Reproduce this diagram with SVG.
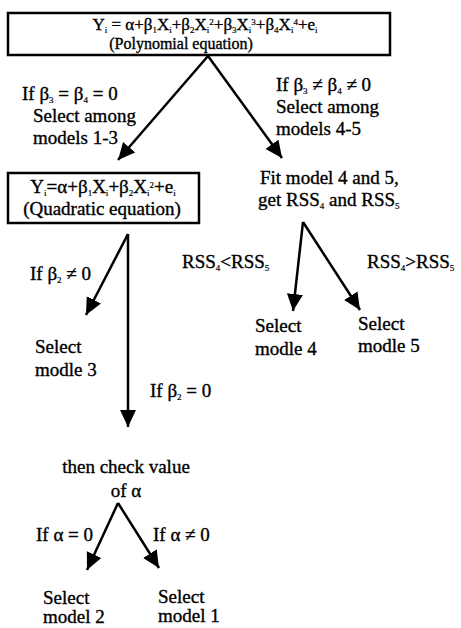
<svg xmlns="http://www.w3.org/2000/svg" width="461" height="628" viewBox="0 0 461 628">
<style>
text{font-family:"Liberation Serif","Times New Roman",serif;font-size:19px;fill:#000;stroke:#000;stroke-width:0.35}
.f16{font-size:16px}
.f17{font-size:17px}
.box{fill:#fff;stroke:#000;stroke-width:2.5}
.c{stroke:#000;stroke-width:2.5;fill:none}
.s{font-size:9px;stroke-width:0.2}
</style>
<defs>
<marker id="ah" markerUnits="userSpaceOnUse" markerWidth="18" markerHeight="17" refX="17" refY="8" orient="auto" viewBox="0 0 18 17">
<path d="M0,0 L17,8 L0,16 z" fill="#000"/>
</marker>
</defs>
<rect width="461" height="628" fill="#fff"/>
<g id="connectors">
<line class="c" x1="208" y1="56" x2="118" y2="160" marker-end="url(#ah)"/>
<line class="c" x1="208" y1="56" x2="282" y2="158" marker-end="url(#ah)"/>
<line class="c" x1="128" y1="234" x2="86" y2="315" marker-end="url(#ah)"/>
<line class="c" x1="128" y1="234" x2="128" y2="427" marker-end="url(#ah)"/>
<line class="c" x1="303" y1="222" x2="293" y2="311" marker-end="url(#ah)"/>
<line class="c" x1="303" y1="222" x2="360" y2="310" marker-end="url(#ah)"/>
<line class="c" x1="118" y1="503" x2="87" y2="570" marker-end="url(#ah)"/>
<line class="c" x1="118" y1="503" x2="159" y2="568" marker-end="url(#ah)"/>
</g>
<g id="polynomial">
<rect class="box" x="8" y="13" width="382" height="42"/>
<text class="f17" x="205" y="30" text-anchor="middle">Y<tspan class="s" dy="3">i</tspan><tspan dy="-3"> = α+β</tspan><tspan class="s" dy="3">1</tspan><tspan dy="-3">X</tspan><tspan class="s" dy="3">i</tspan><tspan dy="-3">+β</tspan><tspan class="s" dy="3">2</tspan><tspan dy="-3">X</tspan><tspan class="s" dy="3">i</tspan><tspan class="s" dy="-8">2</tspan><tspan dy="5">+β</tspan><tspan class="s" dy="3">3</tspan><tspan dy="-3">X</tspan><tspan class="s" dy="3">i</tspan><tspan class="s" dy="-8">3</tspan><tspan dy="5">+β</tspan><tspan class="s" dy="3">4</tspan><tspan dy="-3">X</tspan><tspan class="s" dy="3">i</tspan><tspan class="s" dy="-8">4</tspan><tspan dy="5">+e</tspan><tspan class="s" dy="3">i</tspan></text>
<text class="f16" x="181" y="49" text-anchor="middle">(Polynomial equation)</text>
</g>
<g id="label-left-top">
<text x="22" y="100">If β<tspan class="s" dy="3">3</tspan><tspan dy="-3"> = β</tspan><tspan class="s" dy="3">4</tspan><tspan dy="-3"> = 0</tspan></text>
<text x="33" y="122">Select among</text>
<text x="33" y="144">models 1-3</text>
</g>
<g id="label-right-top">
<text x="276" y="91">If β<tspan class="s" dy="3">3</tspan><tspan dy="-3"> ≠ β</tspan><tspan class="s" dy="3">4</tspan><tspan dy="-3"> ≠ 0</tspan></text>
<text x="276" y="113">Select among</text>
<text x="276" y="135">models 4-5</text>
</g>
<g id="quadratic">
<rect class="box" x="8" y="173" width="191" height="50"/>
<text x="103" y="193" text-anchor="middle">Y<tspan class="s" dy="3">i</tspan><tspan dy="-3">=α+β</tspan><tspan class="s" dy="3">1</tspan><tspan dy="-3">X</tspan><tspan class="s" dy="3">i</tspan><tspan dy="-3">+β</tspan><tspan class="s" dy="3">2</tspan><tspan dy="-3">X</tspan><tspan class="s" dy="3">i</tspan><tspan class="s" dy="-8">2</tspan><tspan dy="5">+e</tspan><tspan class="s" dy="3">i</tspan></text>
<text x="102" y="215" text-anchor="middle">(Quadratic equation)</text>
</g>
<g id="fit">
<text x="260" y="184">Fit model 4 and 5,</text>
<text x="258" y="206">get RSS<tspan class="s" dy="3">4</tspan><tspan dy="-3"> and RSS</tspan><tspan class="s" dy="3">5</tspan></text>
</g>
<g id="rss-labels">
<text x="182" y="268">RSS<tspan class="s" dy="3">4</tspan><tspan dy="-3">&lt;RSS</tspan><tspan class="s" dy="3">5</tspan></text>
<text x="367" y="268">RSS<tspan class="s" dy="3">4</tspan><tspan dy="-3">&gt;RSS</tspan><tspan class="s" dy="3">5</tspan></text>
</g>
<g id="model4">
<text x="255" y="332">Select</text>
<text x="255" y="355">modle 4</text>
</g>
<g id="model5">
<text x="358" y="330">Select</text>
<text x="358" y="352">modle 5</text>
</g>
<g id="label-b2-ne">
<text x="30" y="280">If β<tspan class="s" dy="3">2</tspan><tspan dy="-3"> ≠ 0</tspan></text>
</g>
<g id="model3">
<text x="35" y="353">Select</text>
<text x="35" y="376">modle 3</text>
</g>
<g id="label-b2-eq">
<text x="150" y="397">If β<tspan class="s" dy="3">2</tspan><tspan dy="-3"> = 0</tspan></text>
</g>
<g id="check-alpha">
<text x="126" y="473" text-anchor="middle">then check value</text>
<text x="126" y="497" text-anchor="middle">of α</text>
</g>
<g id="alpha-labels">
<text x="36" y="541">If α = 0</text>
<text x="153" y="541">If α ≠ 0</text>
</g>
<g id="model2">
<text x="43" y="604">Select</text>
<text x="43" y="623">model 2</text>
</g>
<g id="model1">
<text x="158" y="603">Select</text>
<text x="158" y="622">model 1</text>
</g>
</svg>
